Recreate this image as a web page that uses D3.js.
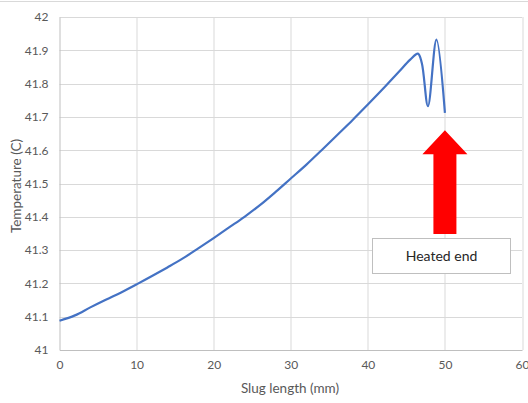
<!DOCTYPE html>
<html>
<head>
<meta charset="utf-8">
<script src="https://cdn.jsdelivr.net/npm/d3@7"></script>
<style>
  body { margin: 0; background: #fff; }
  text { font-family: Lato, "Open Sans", sans-serif; }
</style>
</head>
<body>
<script>
// slug position (mm) and temperature (C)
var xs = [0, 2, 4, 6, 8, 10, 12, 14, 16, 18, 20, 22, 24, 26, 28, 30, 32, 34, 36, 38, 40, 42, 44, 45.5, 46.5, 47.0, 47.8, 48.9, 50];
var temps = [41.088, 41.104, 41.128, 41.151, 41.173, 41.197, 41.222, 41.248, 41.275, 41.305, 41.336, 41.368, 41.4, 41.435, 41.474, 41.515, 41.556, 41.6, 41.645, 41.69, 41.737, 41.785, 41.835, 41.872, 41.89, 41.862, 41.732, 41.932, 41.712];
var xTicks = [0, 10, 20, 30, 40, 50, 60];
var yTicks = [41, 41.1, 41.2, 41.3, 41.4, 41.5, 41.6, 41.7, 41.8, 41.9, 42];
var note = "Heated end";
var noteX = 50;

var W = 528, H = 403;
var margin = {top: 17, right: 6, bottom: 53, left: 59.5},
    width = 522 - margin.left,
    height = 350 - margin.top;

var svg = d3.select("body").append("svg")
    .attr("width", W)
    .attr("height", H);

// outer chart border (top edge visible)
svg.append("line")
    .attr("x1", 0).attr("x2", W)
    .attr("y1", 1.5).attr("y2", 1.5)
    .attr("stroke", "#d9d9d9");

var g = svg.append("g")
    .attr("transform", "translate(" + margin.left + "," + margin.top + ")");

var x = d3.scaleLinear().domain([0, 60]).range([0, width]);
var y = d3.scaleLinear().domain([41, 42]).range([height, 0]);

// gridlines
g.selectAll(".hgrid").data(yTicks.slice(1)).enter().append("line")
    .attr("x1", 0).attr("x2", width)
    .attr("y1", function(d) { return Math.round(y(d)) + 0.5; })
    .attr("y2", function(d) { return Math.round(y(d)) + 0.5; })
    .attr("stroke", "#d9d9d9");
g.selectAll(".vgrid").data(xTicks.slice(1)).enter().append("line")
    .attr("y1", 0).attr("y2", height)
    .attr("x1", function(d) { return Math.round(x(d)) + 0.5; })
    .attr("x2", function(d) { return Math.round(x(d)) + 0.5; })
    .attr("stroke", "#d9d9d9");

// axes
var xAxis = d3.axisBottom(x).tickValues(xTicks).tickSize(0).tickPadding(10);
var yAxis = d3.axisLeft(y).tickValues(yTicks).tickSize(0).tickPadding(11)
    .tickFormat(function(d) { return d3.format("")(+d.toFixed(1)); });

var gx = g.append("g").attr("transform", "translate(0," + height + ")").call(xAxis);
var gy = g.append("g").call(yAxis);
[gx, gy].forEach(function(a) {
  a.select(".domain").attr("stroke", "#bfbfbf");
  a.selectAll("text").attr("fill", "#595959").attr("font-size", 12)
    .style("font-family", "Lato, 'Open Sans', sans-serif");
});

// line
var line = d3.line()
    .x(function(d, i) { return x(xs[i]); })
    .y(function(d) { return y(d); })
    .curve(d3.curveCatmullRom.alpha(0.5));

g.append("path")
    .datum(temps)
    .attr("fill", "none")
    .attr("stroke", "#4472c4")
    .attr("stroke-width", 2.2)
    .attr("d", line);

// arrow
var ax = x(noteX);
var arrow = [
  [ax, y(41.66)],
  [ax + 22.5, y(41.588)],
  [ax + 11.5, y(41.588)],
  [ax + 11.5, y(41.348)],
  [ax - 11.5, y(41.348)],
  [ax - 11.5, y(41.588)],
  [ax - 22.5, y(41.588)]
];
g.append("path")
    .attr("d", "M" + arrow.join("L") + "Z")
    .attr("fill", "#ff0000");

// note box
g.append("rect")
    .attr("x", 372.5 - margin.left).attr("y", 238.5 - margin.top)
    .attr("width", 138).attr("height", 35)
    .attr("fill", "#fff")
    .attr("stroke", "#bfbfbf");
g.append("text")
    .attr("x", 441.5 - margin.left).attr("y", 256 - margin.top)
    .attr("dy", "0.35em")
    .attr("text-anchor", "middle")
    .attr("font-size", 14)
    .attr("fill", "#262626")
    .text(note);

// axis titles
svg.append("text")
    .attr("x", 290).attr("y", 393)
    .attr("text-anchor", "middle")
    .attr("font-size", 13.5)
    .attr("fill", "#595959")
    .text("Slug length (mm)");
svg.append("text")
    .attr("transform", "translate(20.5,186) rotate(-90)")
    .attr("text-anchor", "middle")
    .attr("font-size", 13.5)
    .attr("fill", "#595959")
    .text("Temperature (C)");
</script>
</body>
</html>
